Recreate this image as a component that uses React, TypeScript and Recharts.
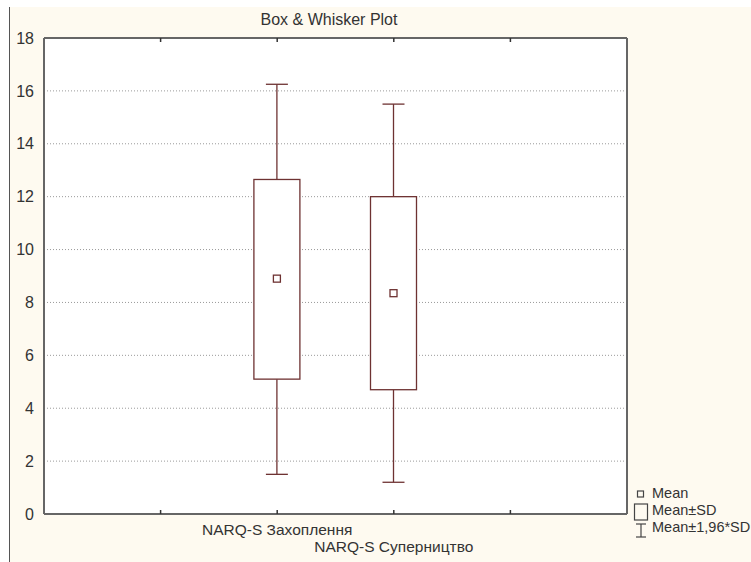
import { ComposedChart, Bar, XAxis, YAxis, CartesianGrid } from "recharts"

const categories = ["", "NARQ-S Захоплення", "NARQ-S Суперництво", ""]
const means = [null, 8.9, 8.35, null]
const sdLow = [null, 5.1, 4.7, null]
const sdHigh = [null, 12.65, 12.0, null]
const ciLow = [null, 1.5, 1.2, null]
const ciHigh = [null, 16.25, 15.5, null]
const yTicks = [0, 2, 4, 6, 8, 10, 12, 14, 16, 18]

const data = categories.map((name, i) => ({
  name,
  mean: means[i],
  sdLow: sdLow[i],
  sdHigh: sdHigh[i],
  ciLow: ciLow[i],
  ciHigh: ciHigh[i],
}))

const FONT = '"Liberation Sans", Arial, sans-serif'
const BOX = "#6e3232"
const FRAME = "#666"
const X_PAD = 58.3

const BoxShape = (props: any) => {
  const { x, y, width, height, payload } = props
  if (payload == null || payload.mean == null) return null
  const top = Math.min(y, y + height)
  const h = Math.abs(height)
  const span = payload.ciHigh - payload.ciLow
  const py = (v: number) => top + (h * (payload.ciHigh - v)) / span
  const cx = x + width / 2
  const cap = 11
  return (
    <g stroke={BOX} strokeWidth={1.3} fill="none">
      <line x1={cx} x2={cx} y1={py(payload.ciHigh)} y2={py(payload.sdHigh)} />
      <line x1={cx} x2={cx} y1={py(payload.sdLow)} y2={py(payload.ciLow)} />
      <line x1={cx - cap} x2={cx + cap} y1={py(payload.ciHigh)} y2={py(payload.ciHigh)} />
      <line x1={cx - cap} x2={cx + cap} y1={py(payload.ciLow)} y2={py(payload.ciLow)} />
      <rect
        x={x}
        y={py(payload.sdHigh)}
        width={width}
        height={py(payload.sdLow) - py(payload.sdHigh)}
        fill="#fff"
      />
      <rect x={cx - 3.5} y={py(payload.mean) - 3.5} width={7} height={7} fill="#fff" />
    </g>
  )
}

const BottomTick = (props: any) => {
  const { x, y, payload, index } = props
  const dy = index === 2 ? 38 : 21
  return (
    <g>
      <line x1={x} x2={x} y1={y} y2={y - 4} stroke="#333" strokeWidth={1.5} />
      {payload.value ? (
        <text x={x} y={y + dy} textAnchor="middle" fontSize={15.5} fill="#333" fontFamily={FONT}>
          {payload.value}
        </text>
      ) : null}
    </g>
  )
}

const TopTick = (props: any) => {
  const { x, y } = props
  return <line x1={x} x2={x} y1={y} y2={y + 4} stroke="#333" strokeWidth={1.5} />
}

const RightTick = (props: any) => {
  const { x, y } = props
  return <line x1={x} x2={x - 4} y1={y} y2={y} stroke="#333" strokeWidth={1.5} />
}

const LegendBox = () => (
  <div style={{ position: "absolute", left: 632, top: 485, fontFamily: FONT, fontSize: 14.5, color: "#333" }}>
    <svg width={20} height={54} style={{ position: "absolute", left: 0, top: 0 }}>
      <g stroke="#444" strokeWidth={1.2} fill="none">
        <rect x={5.5} y={6} width={6} height={6} />
        <rect x={2.5} y={19} width={13} height={16} />
        <line x1={9} x2={9} y1={39} y2={52} />
        <line x1={4} x2={14} y1={39} y2={39} />
        <line x1={4} x2={14} y1={52} y2={52} />
      </g>
    </svg>
    <div style={{ position: "absolute", left: 20, top: 0, lineHeight: "17px", whiteSpace: "nowrap" }}>
      <div>Mean</div>
      <div>Mean±SD</div>
      <div>Mean±1,96*SD</div>
    </div>
  </div>
)

export default function App() {
  return (
    <div style={{ position: "relative", width: 751, height: 562, background: "#fff", overflow: "hidden" }}>
      <style>{"body{margin:0}"}</style>
      <div
        style={{
          position: "absolute",
          left: 9,
          top: 7,
          right: 0,
          bottom: 0,
          background: "#fefaf0",
          borderLeft: "1px solid #555",
        }}
      />
      <div
        style={{
          position: "absolute",
          left: 229,
          top: 11,
          width: 200,
          textAlign: "center",
          fontFamily: FONT,
          fontSize: 16,
          color: "#333",
        }}
      >
        Box &amp; Whisker Plot
      </div>
      <div style={{ position: "absolute", left: 0, top: 0 }}>
        <ComposedChart
          width={751}
          height={562}
          data={data}
          margin={{ top: 37, right: 123, bottom: 0, left: 0 }}
        >
          <CartesianGrid
            xAxisId="bottom"
            yAxisId="left"
            vertical={false}
            stroke="#9a9a9a"
            strokeDasharray="1 2"
            fill="#fff"
          />
          <XAxis
            xAxisId="bottom"
            dataKey="name"
            interval={0}
            height={48}
            padding={{ left: X_PAD, right: X_PAD }}
            tickLine={false}
            tickSize={0}
            tickMargin={0}
            tick={<BottomTick />}
            axisLine={{ stroke: FRAME, strokeWidth: 2 }}
          />
          <XAxis
            xAxisId="top"
            orientation="top"
            dataKey="name"
            interval={0}
            height={1}
            padding={{ left: X_PAD, right: X_PAD }}
            tickLine={false}
            tickSize={0}
            tickMargin={0}
            tick={<TopTick />}
            axisLine={{ stroke: FRAME, strokeWidth: 2 }}
          />
          <YAxis
            yAxisId="left"
            domain={[0, 18]}
            ticks={yTicks}
            width={44}
            tickLine={false}
            tickSize={0}
            tickMargin={10}
            tick={{ fontSize: 16, fill: "#333", fontFamily: FONT }}
            axisLine={{ stroke: FRAME, strokeWidth: 2 }}
          />
          <YAxis
            yAxisId="right"
            orientation="right"
            domain={[0, 18]}
            ticks={yTicks}
            width={1}
            tickLine={false}
            tickSize={0}
            tickMargin={0}
            tick={<RightTick />}
            axisLine={{ stroke: FRAME, strokeWidth: 2 }}
          />
          <Bar
            xAxisId="bottom"
            yAxisId="left"
            dataKey={(d: any) => (d.mean == null ? null : [d.ciLow, d.ciHigh])}
            barSize={46}
            shape={<BoxShape />}
            isAnimationActive={false}
          />
        </ComposedChart>
      </div>
      <LegendBox />
    </div>
  )
}
